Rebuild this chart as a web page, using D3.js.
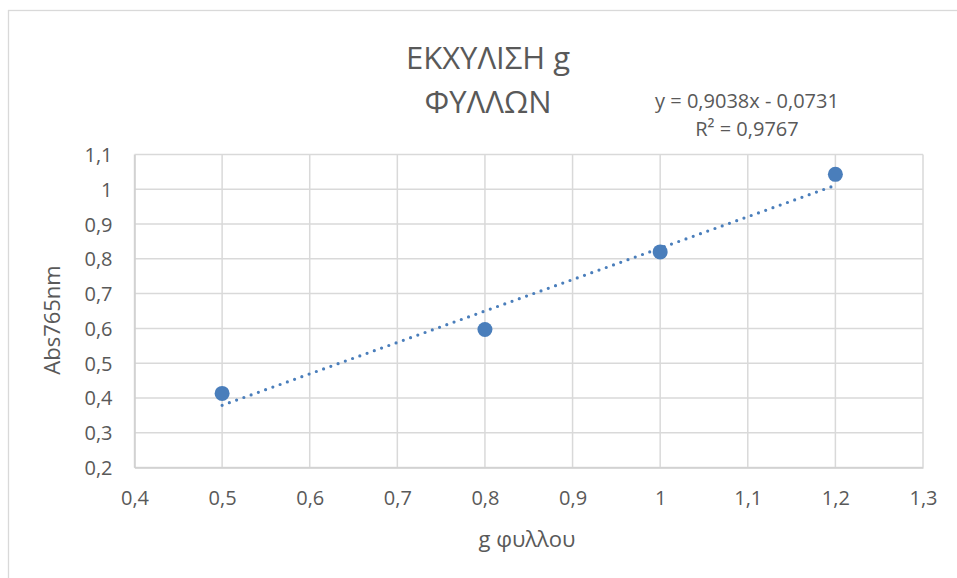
<!DOCTYPE html>
<html>
<head>
<meta charset="utf-8">
<script src="https://cdn.jsdelivr.net/npm/d3@7"></script>
<style>
  body { margin: 0; background: #fff; }
  svg { display: block; font-family: "Open Sans", sans-serif; }
</style>
</head>
<body>
<svg width="957" height="578"></svg>
<script>
// data
var xValues = [0.5, 0.8, 1.0, 1.2];
var yValues = [0.413, 0.597, 0.82, 1.043];
var xTicks = [0.4, 0.5, 0.6, 0.7, 0.8, 0.9, 1.0, 1.1, 1.2, 1.3];
var yTicks = [0.2, 0.3, 0.4, 0.5, 0.6, 0.7, 0.8, 0.9, 1.0, 1.1];
var titleLines = ["ΕΚΧΥΛΙΣΗ g", "ΦΥΛΛΩΝ"];
var trendLabel = ["y = 0,9038x - 0,0731", "R² = 0,9767"];
var slope = 0.9038, intercept = -0.0731;

var svg = d3.select("svg");
var color = "#4a7ebb", grid = "#d9d9d9", textColor = "#595959";

var plotLeft = 134.5, plotRight = 923, plotTop = 154.5, plotBottom = 467.5;

var x = d3.scaleLinear().domain([0.4, 1.3]).range([plotLeft, plotRight]);
var y = d3.scaleLinear().domain([0.2, 1.1]).range([plotBottom, plotTop]);

var fmt = function(d) { return String(+d.toFixed(1)).replace(".", ","); };

// outer chart border
svg.append("rect")
   .attr("x", 8.5).attr("y", 10.5)
   .attr("width", 960).attr("height", 580)
   .attr("fill", "none").attr("stroke", grid).attr("stroke-width", 1.3);

var g = svg.append("g");

// gridlines
g.selectAll(".vgrid").data(xTicks).enter().append("line")
 .attr("x1", function(d) { return x(d); }).attr("x2", function(d) { return x(d); })
 .attr("y1", plotTop).attr("y2", plotBottom)
 .attr("stroke", grid).attr("stroke-width", 1.5);

g.selectAll(".hgrid").data(yTicks).enter().append("line")
 .attr("y1", function(d) { return y(d); }).attr("y2", function(d) { return y(d); })
 .attr("x1", plotLeft).attr("x2", plotRight)
 .attr("stroke", grid).attr("stroke-width", 1.5);

// axes (labels only, lines in grey)
var xAxis = g.append("g")
   .attr("transform", "translate(0," + plotBottom + ")")
   .call(d3.axisBottom(x).tickValues(xTicks).tickFormat(fmt).tickSize(0).tickPadding(23));
var yAxis = g.append("g")
   .attr("transform", "translate(" + plotLeft + ",0)")
   .call(d3.axisLeft(y).tickValues(yTicks).tickFormat(fmt).tickSize(0).tickPadding(22));

[xAxis, yAxis].forEach(function(a) {
  a.select(".domain").attr("stroke", "#cfcfcf").attr("stroke-width", 1.5);
  a.selectAll("text")
   .attr("fill", textColor)
   .style("font-family", "'Open Sans', sans-serif")
   .style("font-size", "20px");
});
yAxis.selectAll("text").attr("dy", "0.35em");
xAxis.selectAll("text").attr("dy", "0.71em");

// trendline
var x0 = d3.min(xValues), x1 = d3.max(xValues);
g.append("line")
 .attr("x1", x(x0)).attr("y1", y(slope * x0 + intercept))
 .attr("x2", x(x1)).attr("y2", y(slope * x1 + intercept))
 .attr("stroke", color).attr("stroke-width", 3.2)
 .attr("stroke-linecap", "round")
 .attr("stroke-dasharray", "0,7.7");

// points
g.selectAll(".pt").data(xValues).enter().append("circle")
 .attr("cx", function(d) { return x(d); })
 .attr("cy", function(d, i) { return y(yValues[i]); })
 .attr("r", 7.5)
 .attr("fill", color);

// title
svg.selectAll(".title").data(titleLines).enter().append("text")
   .attr("x", 488)
   .attr("y", function(d, i) { return 69 + i * 44; })
   .attr("text-anchor", "middle")
   .attr("font-size", "31px")
   .attr("fill", textColor)
   .text(function(d) { return d; });

// trendline label
svg.selectAll(".eq").data(trendLabel).enter().append("text")
   .attr("x", 747)
   .attr("y", function(d, i) { return 108 + i * 28; })
   .attr("text-anchor", "middle")
   .attr("font-size", "20px")
   .attr("fill", textColor)
   .text(function(d) { return d; });

// axis titles
svg.append("text")
   .attr("x", 527).attr("y", 547)
   .attr("text-anchor", "middle")
   .attr("font-size", "22px")
   .attr("fill", textColor)
   .text("g φυλλου");

svg.append("text")
   .attr("transform", "translate(60,320) rotate(-90)")
   .attr("text-anchor", "middle")
   .attr("font-size", "22px")
   .attr("fill", textColor)
   .text("Abs765nm");
</script>
</body>
</html>
